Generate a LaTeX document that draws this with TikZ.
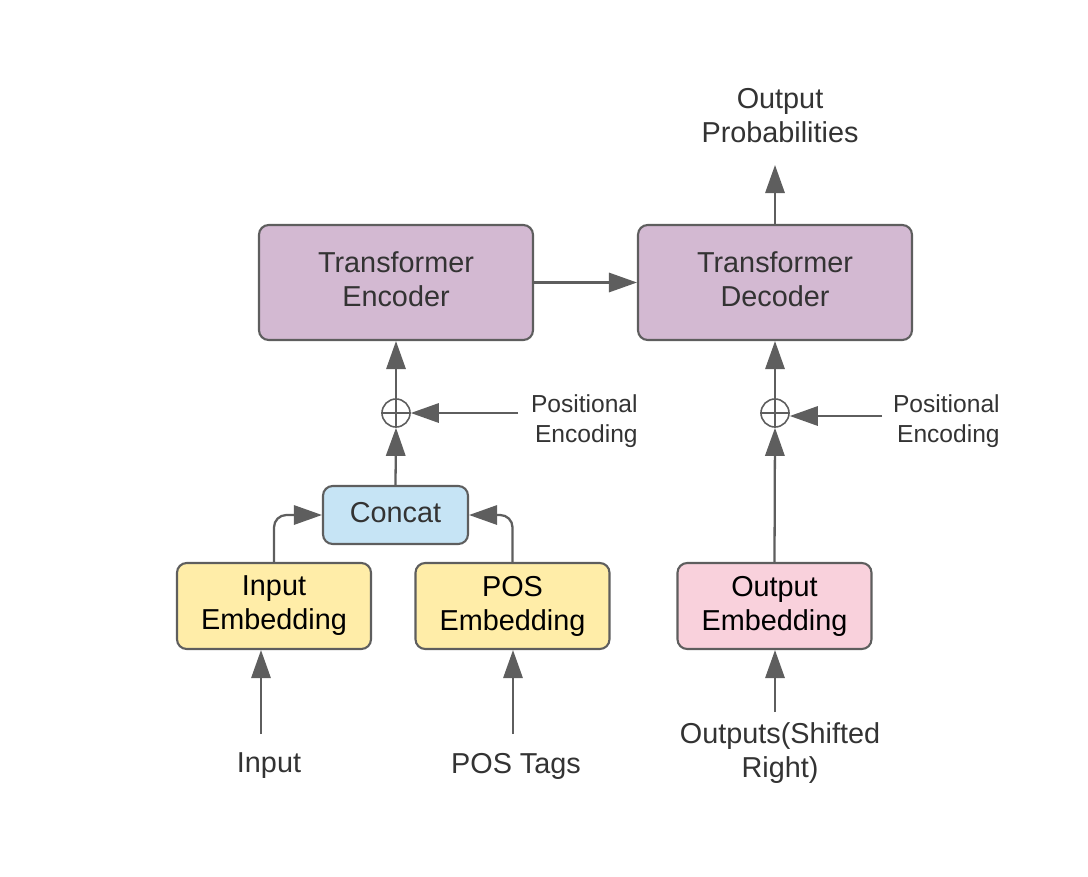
\documentclass[tikz,border=0pt]{standalone}
\usepackage{fontspec}
\setmainfont{Liberation Sans}
\usetikzlibrary{arrows.meta}
\definecolor{linec}{HTML}{5E5E5E}
\definecolor{txt}{HTML}{333333}
\definecolor{purp}{HTML}{D3B9D2}
\definecolor{blu}{HTML}{C6E4F5}
\definecolor{yel}{HTML}{FFEDA8}
\definecolor{pnk}{HTML}{F9D1DC}
\tikzset{
  box/.style={draw=linec, line width=1.2pt, rounded corners=5.5pt, align=center, inner sep=0pt, text=txt, font=\fontsize{16.4}{19.3}\selectfont},
  bigbox/.style={box, fill=purp, minimum width=5.48cm, minimum height=2.30cm},
  catbox/.style={box, fill=blu, minimum width=2.90cm, minimum height=1.16cm},
  embbox/.style={box, minimum width=3.88cm, minimum height=1.72cm, text=black},
  plus/.style={circle, draw=linec, line width=0.9pt, minimum size=0.56cm, inner sep=0pt},
  lab/.style={align=center, inner sep=0pt, text=txt, font=\fontsize{16.4}{19.3}\selectfont},
  smalllab/.style={align=right, inner sep=0pt, text=txt, font=\fontsize{14}{17}\selectfont},
  conn/.style={draw=linec, line width=1.3pt, -{Triangle[length=16pt, width=11pt]}}
}
\begin{document}
\begin{tikzpicture}[x=0.02cm, y=-0.02cm]
\useasboundingbox (0,0) rectangle (1088,876);
\node[bigbox, label={[lab, yshift=1.8pt]center:Transformer\\Encoder}] (enc) at (396,282.5) {};
\node[bigbox, label={[lab, yshift=1.8pt]center:Transformer\\Decoder}] (dec) at (775,282.5) {};
\node[catbox, label={[lab, yshift=1.2pt]center:Concat}] (cat) at (395.5,515) {};
\node[embbox, fill=yel] (iemb) at (274,606) {Input\\Embedding};
\node[embbox, fill=yel] (pemb) at (512.5,606) {POS\\Embedding};
\node[embbox, fill=pnk] (oemb) at (774.5,606) {Output\\Embedding};
\node[plus] (p1) at (396,413) {};
\node[plus] (p2) at (775,413) {};
\draw[linec, line width=0.9pt] (p1.north) -- (p1.south) (p1.west) -- (p1.east);
\draw[linec, line width=0.9pt] (p2.north) -- (p2.south) (p2.west) -- (p2.east);

\node[lab] (oprob) at (780,116) {Output\\Probabilities};
\node[lab] (inp) at (269,766) {Input};
\node[lab] (ptag) at (516,766) {POS Tags};
\node[lab] (outs) at (780,753) {Outputs(Shifted\\Right)};
\node[smalllab, anchor=east] (pe1) at (638,421) {Positional\\Encoding};
\node[smalllab, anchor=east] (pe2) at (1000,421) {Positional\\Encoding};

\coordinate (optop) at (775,165);
\coordinate (pe1s) at (518,413);
\coordinate (pe2s) at (882,416);
\coordinate (inps) at (261,734);
\coordinate (ptags) at (513,734);
\coordinate (outss) at (775,712);
\coordinate (ibend) at (274,515);
\coordinate (pbend) at (512.5,515);

\draw[conn] (dec.north) -- (optop);
\draw[conn] (enc.east) -- (dec.west);
\draw[conn] (p1.north) -- (enc.south);
\draw[conn] (p2.north) -- (dec.south);
\draw[conn] (pe1s) -- (p1.east);
\draw[conn] (pe2s) -- (p2.east |- pe2s);
\draw[conn] (cat.north) -- (p1.south);
\draw[conn] (oemb.north) -- (p2.south);
\draw[conn, rounded corners=7pt] (iemb.north) -- (ibend) -- (cat.west);
\draw[conn, rounded corners=7pt] (pemb.north) -- (pbend) -- (cat.east);
\draw[conn] (inps) -- (inps |- iemb.south);
\draw[conn] (ptags) -- (ptags |- pemb.south);
\draw[conn] (outss) -- (outss |- oemb.south);
\end{tikzpicture}
\end{document}
